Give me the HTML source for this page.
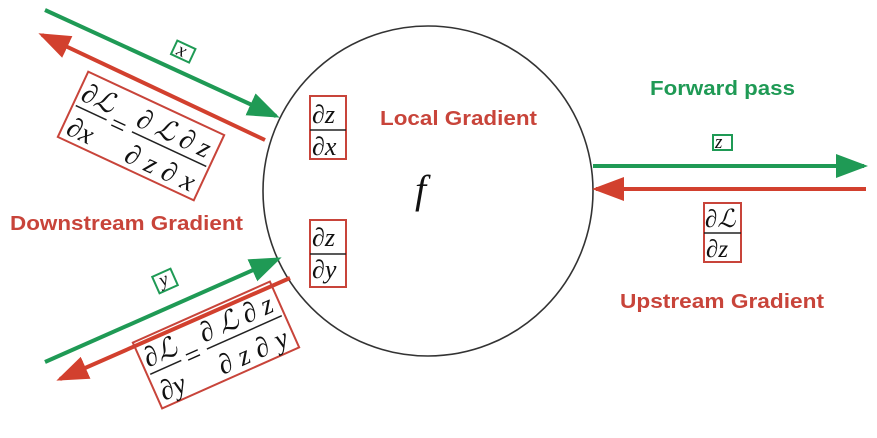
<!DOCTYPE html>
<html><head><meta charset="utf-8"><style>
html,body{margin:0;padding:0;background:#fff;width:877px;height:438px;overflow:hidden}
svg{display:block}
.m{font-family:"Liberation Serif","DejaVu Serif",serif;font-style:italic;fill:#111}
.b{font-family:"Liberation Sans",sans-serif;font-weight:bold}
</style></head><body>
<svg width="877" height="438" viewBox="0 0 877 438" xmlns="http://www.w3.org/2000/svg">
<defs>
<marker id="g" markerWidth="8" markerHeight="6" refX="7" refY="3" orient="auto" markerUnits="strokeWidth"><path d="M0,0L8,3L0,6z" fill="#1f9a55"/></marker>
<marker id="r" markerWidth="8" markerHeight="6" refX="7" refY="3" orient="auto" markerUnits="strokeWidth"><path d="M0,0L8,3L0,6z" fill="#d2402e"/></marker>
</defs>
<circle cx="428" cy="191" r="165" fill="none" stroke="#333" stroke-width="1.6"/>
<line x1="45" y1="10" x2="276" y2="116" stroke="#1f9a55" stroke-width="4" marker-end="url(#g)"/>
<line x1="265" y1="140" x2="42" y2="35" stroke="#d2402e" stroke-width="4" marker-end="url(#r)"/>
<line x1="45" y1="362" x2="278" y2="259" stroke="#1f9a55" stroke-width="4" marker-end="url(#g)"/>
<line x1="290" y1="278" x2="60" y2="379" stroke="#d2402e" stroke-width="4" marker-end="url(#r)"/>
<line x1="593" y1="166" x2="864" y2="166" stroke="#1f9a55" stroke-width="4" marker-end="url(#g)"/>
<line x1="866" y1="189" x2="596" y2="189" stroke="#d2402e" stroke-width="4" marker-end="url(#r)"/>
<text x="650" y="95" class="b" font-size="20" fill="#1f9a55" textLength="145" lengthAdjust="spacingAndGlyphs">Forward pass</text>
<text x="380" y="125" class="b" font-size="20" fill="#c8443a" textLength="157" lengthAdjust="spacingAndGlyphs">Local Gradient</text>
<text x="10" y="230" class="b" font-size="20" fill="#c8443a" textLength="233" lengthAdjust="spacingAndGlyphs">Downstream Gradient</text>
<text x="620" y="308" class="b" font-size="20" fill="#c8443a" textLength="204" lengthAdjust="spacingAndGlyphs">Upstream Gradient</text>
<text x="415" y="203" class="m" font-size="40">f</text>
<rect x="713" y="135" width="19" height="15" fill="none" stroke="#1f9a55" stroke-width="2"/>
<text x="715" y="148" class="m" font-size="19">z</text>
<g transform="translate(183,52) rotate(25)"><rect x="-10" y="-8" width="20" height="15" fill="none" stroke="#1f9a55" stroke-width="2"/><text x="-6" y="5" class="m" font-size="19">x</text></g>
<g transform="translate(165,281) rotate(-24)"><rect x="-10" y="-9" width="20" height="18" fill="none" stroke="#1f9a55" stroke-width="2"/><text x="-5" y="4" class="m" font-size="19">y</text></g>
<rect x="310" y="96" width="36" height="63" fill="none" stroke="#c8443a" stroke-width="2"/>
<text x="312" y="123" class="m" font-size="26">∂z</text><line x1="310" y1="130" x2="346" y2="130" stroke="#222" stroke-width="1.5"/><text x="312" y="155" class="m" font-size="26">∂x</text>
<rect x="310" y="220" width="36" height="67" fill="none" stroke="#c8443a" stroke-width="2"/>
<text x="312" y="246" class="m" font-size="26">∂z</text><line x1="310" y1="254" x2="346" y2="254" stroke="#222" stroke-width="1.5"/><text x="312" y="278" class="m" font-size="26">∂y</text>
<rect x="704" y="203" width="37" height="59" fill="none" stroke="#c8443a" stroke-width="2"/>
<text x="705" y="227" class="m" font-size="25">∂ℒ</text><line x1="704" y1="233" x2="741" y2="233" stroke="#222" stroke-width="1.5"/><text x="706" y="257" class="m" font-size="25">∂z</text>
<g transform="translate(141,136) rotate(25)">
<rect x="-75" y="-36" width="150" height="72" fill="none" stroke="#c8443a" stroke-width="2"/>
<text x="-71" y="-7" class="m" font-size="28">∂ℒ</text><line x1="-72" y1="0" x2="-38" y2="0" stroke="#222" stroke-width="1.5"/><text x="-70" y="30" class="m" font-size="28">∂x</text>
<text x="-33" y="9" font-family="Liberation Serif,serif" font-size="28" fill="#111">=</text>
<text x="-10" y="-7" class="m" font-size="28" textLength="78" lengthAdjust="spacing">∂ℒ∂z</text><line x1="-10" y1="0" x2="72" y2="0" stroke="#222" stroke-width="1.5"/><text x="-6" y="30" class="m" font-size="28" textLength="74" lengthAdjust="spacing">∂z∂x</text>
</g>
<g transform="translate(216,345) rotate(-24)">
<rect x="-75" y="-36" width="150" height="72" fill="none" stroke="#c8443a" stroke-width="2"/>
<text x="-71" y="-7" class="m" font-size="28">∂ℒ</text><line x1="-72" y1="0" x2="-38" y2="0" stroke="#222" stroke-width="1.5"/><text x="-70" y="30" class="m" font-size="28">∂y</text>
<text x="-33" y="9" font-family="Liberation Serif,serif" font-size="28" fill="#111">=</text>
<text x="-10" y="-7" class="m" font-size="28" textLength="78" lengthAdjust="spacing">∂ℒ∂z</text><line x1="-10" y1="0" x2="72" y2="0" stroke="#222" stroke-width="1.5"/><text x="-6" y="30" class="m" font-size="28" textLength="74" lengthAdjust="spacing">∂z∂y</text>
</g>
</svg>
</body></html>
